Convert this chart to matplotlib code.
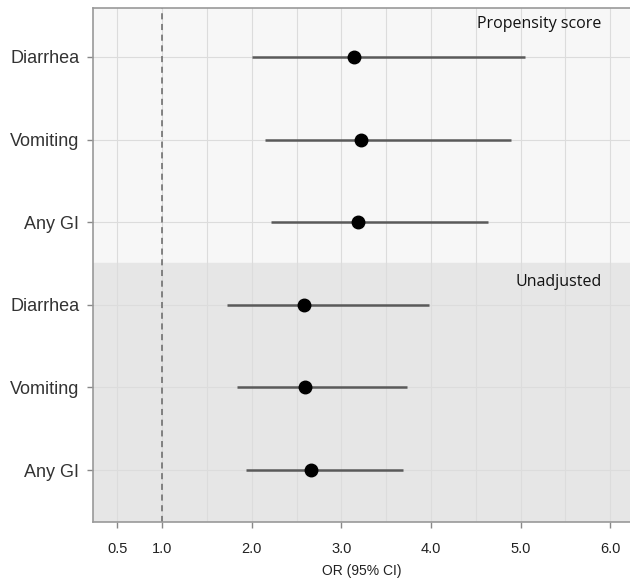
import matplotlib.pyplot as plt

# Данные: OR и 95% ДИ (сверху вниз)
labels = ['Diarrhea', 'Vomiting', 'Any GI', 'Diarrhea', 'Vomiting', 'Any GI']
or_vals = [3.14, 3.22, 3.18, 2.58, 2.59, 2.66]
ci_low = [2.00, 2.15, 2.21, 1.72, 1.83, 1.93]
ci_high = [5.05, 4.89, 4.64, 3.98, 3.73, 3.69]
groups = ['Propensity score', 'Unadjusted']
x_ticks = [0.5, 1.0, 2.0, 3.0, 4.0, 5.0, 6.0]

y = [6, 5, 4, 3, 2, 1]

fig = plt.figure(figsize=(6.3, 5.84), dpi=100)
ax = fig.add_axes([0.148, 0.106, 0.852, 0.88])

ax.set_xlim(0.23, 6.22)
ax.set_ylim(0.37, 6.59)

# фон двух панелей
ax.axhspan(3.5, 6.59, color='#f7f7f7', zorder=0)
ax.axhspan(0.37, 3.5, color='#e6e6e6', zorder=0)

# сетка
for gx in [0.5 + 0.5 * i for i in range(12)]:
    ax.axvline(gx, color='#dcdcdc', lw=0.8, zorder=1)
for gy in y:
    ax.axhline(gy, color='#dcdcdc', lw=0.8, zorder=1)

ax.axvline(1.0, color='#666666', lw=1.1, ls=(0, (4, 3)), zorder=2)

ax.hlines(y, ci_low, ci_high, color='#5a5a5a', lw=1.8, zorder=3)
ax.plot(or_vals, y, 'o', color='black', markersize=9, zorder=4)

ax.text(5.9, 6.40, groups[0], ha='right', va='center', fontsize=11.5,
        family='Open Sans', color='#111111')
ax.text(5.9, 3.28, groups[1], ha='right', va='center', fontsize=11.5,
        family='Open Sans', color='#111111')

ax.set_yticks(y)
ax.set_yticklabels(labels, fontsize=13, family='Liberation Sans', color='#333333')
ax.set_xticks(x_ticks)
ax.set_xticklabels([f'{v:.1f}' for v in x_ticks], fontsize=10.5,
                   family='Liberation Sans', color='#222222')
ax.set_xlabel('OR (95% CI)', fontsize=10, family='Liberation Sans',
              color='#222222', labelpad=6)

ax.tick_params(axis='both', length=4, color='#888888', width=1)
ax.tick_params(axis='x', pad=10)
ax.tick_params(axis='y', pad=6)

for s in ['left', 'bottom', 'top']:
    ax.spines[s].set_color('#999999')
    ax.spines[s].set_linewidth(1.2)
ax.spines['right'].set_visible(False)

fig.savefig('out.png', dpi=100)
